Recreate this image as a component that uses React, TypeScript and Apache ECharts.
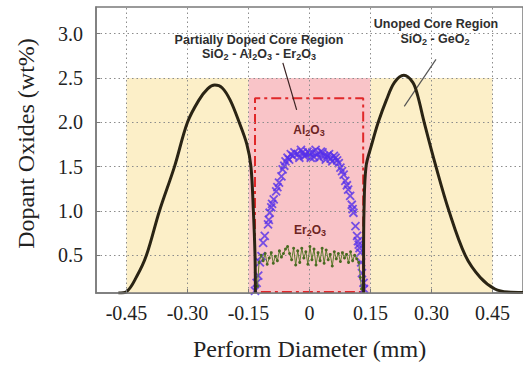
import React, { useEffect, useRef } from "react";
import * as echarts from "echarts";

// ---- data ----
const xTicks = [-0.45, -0.3, -0.15, 0, 0.15, 0.3, 0.45];
const yTicks = [0.5, 1.0, 1.5, 2.0, 2.5, 3.0];

const leftProfile: number[][] = [
  [-0.47, 0.075], [-0.45, 0.09], [-0.425, 0.26], [-0.401, 0.5], [-0.369, 1.0],
  [-0.332, 1.5], [-0.3, 2.0], [-0.272, 2.25], [-0.25, 2.38], [-0.233, 2.42],
  [-0.215, 2.39], [-0.195, 2.25], [-0.173, 2.0], [-0.154, 1.75], [-0.144, 1.5],
  [-0.138, 1.0], [-0.134, 0.5], [-0.133, 0.075],
];
const rightProfile: number[][] = [
  [0.133, 0.075], [0.133, 0.5], [0.134, 1.0], [0.139, 1.5], [0.153, 1.75],
  [0.169, 2.0], [0.189, 2.25], [0.209, 2.45], [0.232, 2.53], [0.254, 2.45],
  [0.266, 2.3], [0.282, 2.0], [0.311, 1.5], [0.343, 1.0], [0.383, 0.5],
  [0.42, 0.25], [0.456, 0.12], [0.488, 0.085], [0.525, 0.08],
];

const al2o3: number[][] = [
  [-0.134, 0.1], [-0.13, 0.19], [-0.126, 0.27], [-0.122, 0.42], [-0.118, 0.49],
  [-0.114, 0.64], [-0.11, 0.72], [-0.102, 0.85], [-0.1, 0.9], [-0.098, 0.98],
  [-0.094, 1.04], [-0.092, 1.08], [-0.088, 1.13], [-0.082, 1.22], [-0.079, 1.27],
  [-0.075, 1.32], [-0.069, 1.39], [-0.066, 1.47], [-0.062, 1.51], [-0.059, 1.56],
  [-0.054, 1.6], [-0.05, 1.58], [-0.046, 1.64], [-0.041, 1.62], [-0.037, 1.66],
  [-0.029, 1.64], [-0.025, 1.6], [-0.021, 1.69], [-0.017, 1.66], [-0.013, 1.62],
  [-0.009, 1.63], [-0.005, 1.67], [0.0, 1.65], [0.003, 1.6], [0.007, 1.66],
  [0.011, 1.61], [0.015, 1.69], [0.019, 1.64], [0.024, 1.6], [0.028, 1.67],
  [0.032, 1.66], [0.036, 1.62], [0.04, 1.58], [0.044, 1.62], [0.048, 1.64],
  [0.052, 1.59], [0.056, 1.56], [0.06, 1.62], [0.064, 1.6], [0.068, 1.57],
  [0.072, 1.54], [0.076, 1.49], [0.08, 1.45], [0.084, 1.41], [0.088, 1.34],
  [0.092, 1.29], [0.095, 1.24], [0.1, 1.17], [0.104, 1.07], [0.106, 1.02],
  [0.108, 0.98], [0.113, 0.83], [0.117, 0.72], [0.119, 0.66], [0.121, 0.62],
  [0.123, 0.58], [0.125, 0.53], [0.127, 0.42], [0.129, 0.3], [0.133, 0.19],
  [0.134, 0.12],
];

const er2o3: number[][] = [
  [-0.128, 0.15], [-0.124, 0.42], [-0.119, 0.5], [-0.114, 0.44], [-0.109, 0.52],
  [-0.104, 0.4], [-0.099, 0.47], [-0.094, 0.53], [-0.089, 0.41], [-0.084, 0.49],
  [-0.079, 0.44], [-0.074, 0.55], [-0.069, 0.48], [-0.064, 0.52], [-0.059, 0.57],
  [-0.054, 0.6], [-0.049, 0.52], [-0.044, 0.45], [-0.039, 0.58], [-0.034, 0.39],
  [-0.029, 0.55], [-0.024, 0.42], [-0.019, 0.58], [-0.014, 0.47], [-0.009, 0.54],
  [-0.004, 0.4], [0.001, 0.6], [0.006, 0.45], [0.011, 0.57], [0.016, 0.39],
  [0.021, 0.53], [0.026, 0.44], [0.031, 0.58], [0.036, 0.41], [0.041, 0.56],
  [0.046, 0.45], [0.051, 0.51], [0.056, 0.38], [0.061, 0.54], [0.066, 0.46],
  [0.071, 0.52], [0.076, 0.43], [0.081, 0.53], [0.086, 0.47], [0.091, 0.51],
  [0.096, 0.42], [0.101, 0.54], [0.106, 0.44], [0.111, 0.5], [0.116, 0.46],
  [0.121, 0.42], [0.125, 0.25], [0.128, 0.12],
];

const dopedBox: number[][] = [
  [-0.134, 0.085], [-0.134, 2.27], [0.132, 2.27], [0.132, 0.085], [-0.134, 0.085],
];

const yellowRegions = [[-0.45, -0.15], [0.15, 0.45]];
const pinkRegion = [-0.15, 0.15];
const regionTop = 2.5;

const arrowDoped = [[-0.0655, 2.67], [-0.0316, 2.14]];
const arrowUndoped = [[0.311, 2.71], [0.233, 2.18]];

const X_MIN = -0.525, X_MAX = 0.525, Y_MIN = 0.075, Y_MAX = 3.3;

const serif = "'Liberation Serif', 'Times New Roman', serif";
const sans = "'Liberation Sans', Arial, 'DejaVu Sans', sans-serif";

export default function App() {
  const ref = useRef<HTMLDivElement>(null);
  useEffect(() => {
    if (!ref.current) return;
    const chart = echarts.init(ref.current, null, { renderer: "svg" });
    const crossPath = "path://M0,0L10,10M10,0L0,10";
    const subRich = (size: number, color: string) => ({
      s: { fontFamily: sans, fontWeight: "bold", fontSize: size, fill: color, color, padding: [6, 0, 0, 0] },
    });
    const annot = (x: number, y: number, text: string, size: number, color: string) => ({
      type: "text", x, y, z: 20,
      style: {
        text, fontFamily: sans, fontWeight: "bold", fontSize: size, fill: color,
        align: "center", verticalAlign: "middle", rich: subRich(9, color),
      },
    });
    const option: any = {
      animation: false,
      backgroundColor: "#ffffff",
      grid: {
        left: 96, top: 7, right: -5, bottom: 74,
        show: true, borderColor: "#7a7a7a", borderWidth: 1.5, backgroundColor: "transparent",
      },
      xAxis: {
        type: "value", min: X_MIN, max: X_MAX, z: 10,
        name: "Perform Diameter (mm)", nameLocation: "middle", nameGap: 44,
        nameTextStyle: { fontFamily: serif, fontSize: 24, color: "#222" },
        axisLine: { show: true, onZero: false, lineStyle: { color: "#7a7a7a", width: 1.5 } },
        axisTick: { show: true, inside: true, length: 4, customValues: xTicks, lineStyle: { color: "#7a7a7a" } },
        axisLabel: {
          customValues: xTicks, margin: 10, fontFamily: serif, fontSize: 20, color: "#222",
          formatter: (v: number) => (Math.abs(v) < 1e-9 ? "0" : v.toFixed(2)),
        },
        splitLine: { show: false },
      },
      yAxis: {
        type: "value", min: Y_MIN, max: Y_MAX, z: 10,
        name: "Dopant Oxides (wt%)", nameLocation: "middle", nameGap: 58,
        nameTextStyle: { fontFamily: serif, fontSize: 24, color: "#222", padding: [0, 0, 0, 13] },
        axisLine: { show: true, onZero: false, lineStyle: { color: "#7a7a7a", width: 1.5 } },
        axisTick: { show: true, inside: true, length: 4, customValues: yTicks, lineStyle: { color: "#7a7a7a" } },
        axisLabel: {
          customValues: yTicks, margin: 13, fontFamily: serif, fontSize: 20, color: "#222",
          formatter: (v: number) => v.toFixed(1),
        },
        splitLine: { show: false },
      },
      series: [
        {
          name: "regions", type: "line", data: [], z: 0.5, silent: true,
          markArea: {
            silent: true,
            data: [
              [{ xAxis: yellowRegions[0][0], yAxis: Y_MIN, itemStyle: { color: "#fcefc8" } }, { xAxis: yellowRegions[0][1], yAxis: regionTop }],
              [{ xAxis: pinkRegion[0], yAxis: Y_MIN, itemStyle: { color: "#f9c4c8" } }, { xAxis: pinkRegion[1], yAxis: regionTop }],
              [{ xAxis: yellowRegions[1][0], yAxis: Y_MIN, itemStyle: { color: "#fcefc8" } }, { xAxis: yellowRegions[1][1], yAxis: regionTop }],
            ],
          },
        },
        {
          name: "grid", type: "line", data: [], z: 0.8, silent: true,
          markLine: {
            silent: true, symbol: "none", label: { show: false },
            lineStyle: { color: "#8c8c8c", width: 1, type: [1.5, 3] },
            data: [
              ...xTicks.map((v) => ({ xAxis: v })),
              ...yTicks.map((v) => ({ yAxis: v })),
            ],
          },
        },
        {
          name: "Doped region", type: "line", data: dopedBox, z: 3, symbol: "none",
          lineStyle: { color: "#e0282a", width: 2, type: [10, 4, 3, 4] },
        },
        {
          name: "Al2O3", type: "scatter", data: al2o3, z: 4, symbol: crossPath, symbolSize: 8,
          itemStyle: { color: "none", borderColor: "#5530ea", borderWidth: 1.8 },
        },
        {
          name: "Er2O3", type: "line", data: er2o3, z: 5, symbol: "circle", symbolSize: 3,
          showSymbol: true,
          lineStyle: { color: "#5c7d2c", width: 1 },
          itemStyle: { color: "#4a6a22" },
        },
        {
          name: "profile-left", type: "line", data: leftProfile, z: 6, symbol: "none", smooth: 0.35,
          lineStyle: { color: "#2a2414", width: 3 },
        },
        {
          name: "profile-right", type: "line", data: rightProfile, z: 6, symbol: "none", smooth: 0.35,
          lineStyle: { color: "#2a2414", width: 3 },
          markLine: {
            silent: true, label: { show: false }, symbolSize: [0, 9],
            data: [
              [
                { coord: arrowDoped[0], symbol: "none", lineStyle: { color: "#3a2222", width: 1.2, type: "solid" } },
                { coord: arrowDoped[1], symbol: "arrow" },
              ],
              [
                { coord: arrowUndoped[0], symbol: "none", lineStyle: { color: "#555555", width: 1.2, type: "solid" } },
                { coord: arrowUndoped[1], symbol: "arrow" },
              ],
            ],
          },
        },
      ],
      graphic: [
        annot(259, 39.5, "Partially Doped Core Region", 12.5, "#2e2e2e"),
        annot(259, 54, "SiO{s|2} - Al{s|2}O{s|3} - Er{s|2}O{s|3}", 12.5, "#2e2e2e"),
        annot(436, 24, "Unoped Core Region", 12.5, "#2e2e2e"),
        annot(435, 38.5, "SiO{s|2} - GeO{s|2}", 12.5, "#2e2e2e"),
        annot(309, 130, "Al{s|2}O{s|3}", 12, "#6e2424"),
        annot(310, 230, "Er{s|2}O{s|3}", 12, "#6e2424"),
      ],
    };
    chart.setOption(option);
    return () => chart.dispose();
  }, []);
  return (
    <div
      ref={ref}
      style={{ position: "fixed", left: 0, top: 0, width: 523, height: 367, background: "#fff" }}
    />
  );
}
